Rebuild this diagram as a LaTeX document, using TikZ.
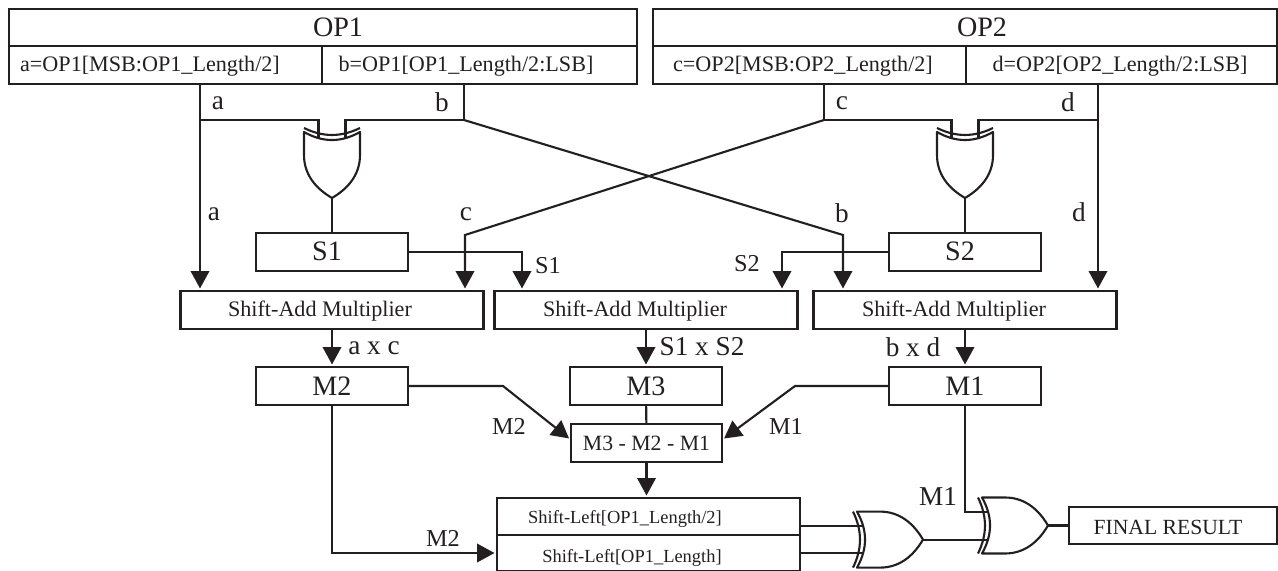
\documentclass[tikz,border=0pt]{standalone}
\usepackage{fontspec}
\setmainfont{Liberation Serif}
\usetikzlibrary{arrows.meta}
\definecolor{ink}{HTML}{231F20}
\tikzset{
  xorgate/.pic={
    \draw[wire, line join=round] (-66,-28) -- (-43,-28) .. controls (-24,-28) and (-10,-17) .. (0,0)
      .. controls (-10,17) and (-24,28) .. (-43,28) -- (-66,28)
      .. controls (-55.3,9) and (-55.3,-9) .. cycle;
    \draw[wire] (-70,-28) .. controls (-60.7,-9) and (-60.7,9) .. (-70,28);
    \coordinate (-in1) at (-60,-13.5);
    \coordinate (-in2) at (-60,13.5);
    \coordinate (-out) at (0,0);
  }
}
\begin{document}
\begin{tikzpicture}[
    x=0.02cm, y=-0.02cm,
    every node/.style={text=ink},
    wire/.style={ink, line width=1.2pt},
    arr/.style={wire, -{Triangle[length=3.5mm,width=3.7mm]}, shorten >=0.05cm},
    cell/.style={draw=ink, line width=1.3pt, inner sep=0pt, outer sep=0pt, minimum height=0.76cm},
    big/.style={font=\fontsize{16}{18}\selectfont},
    mid/.style={font=\fontsize{12.6}{14}\selectfont},
    tiny/.style={font=\fontsize{10.5}{12}\selectfont},
    lbl/.style={font=\fontsize{15.5}{18}\selectfont, inner sep=0pt},
    lbs/.style={font=\fontsize{13.8}{16}\selectfont, inner sep=0pt}
  ]
    \useasboundingbox (0,0) rectangle (1278,571);

    % Operand registers
    \node[cell, minimum width=12.56cm, minimum height=0.74cm] (op1) at (323,27.5) {};
    \node[cell, minimum width=6.26cm] (a1) at (165.5,65) {};
    \node[cell, minimum width=6.30cm] (b1) at (479.5,65) {};
    \node[cell, minimum width=12.48cm, minimum height=0.74cm] (op2) at (965,27.5) {};
    \node[cell, minimum width=6.26cm] (c1) at (809.5,65) {};
    \node[cell, minimum width=6.22cm] (d1) at (1121.5,65) {};
    \node[big] (op1txt) at (338,27) {OP1};
    \node[big] (op2txt) at (982,27) {OP2};
    \node[mid] (a1txt) at (150,66) {a=OP1[MSB:OP1\_Length/2]};
    \node[mid] (b1txt) at (466,66) {b=OP1[OP1\_Length/2:LSB]};
    \node[mid] (c1txt) at (803,66) {c=OP2[MSB:OP2\_Length/2]};
    \node[mid] (d1txt) at (1120,66) {d=OP2[OP2\_Length/2:LSB]};

    % Sum registers
    \node[cell, minimum width=3.04cm] (s1) at (332,252) {};
    \node[cell, minimum width=3.04cm] (s2) at (965,252) {};
    \node[big] (s1txt) at (327,251) {S1};
    \node[big] (s2txt) at (960,251) {S2};

    % Multipliers
    \node[cell, minimum width=6.06cm] (m1) at (332,310) {};
    \node[cell, minimum width=6.06cm] (m2) at (646,310) {};
    \node[cell, minimum width=6.06cm] (m3) at (965,310) {};
    \node[mid] (m1txt) at (320,311) {Shift-Add Multiplier};
    \node[mid] (m2txt) at (635,311) {Shift-Add Multiplier};
    \node[mid] (m3txt) at (954,311) {Shift-Add Multiplier};

    % Product registers
    \node[cell, big, minimum width=3.04cm] (rm2) at (332,386) {M2};
    \node[cell, big, minimum width=3.04cm] (rm3) at (646,386) {M3};
    \node[cell, big, minimum width=3.04cm] (rm1) at (965,386) {M1};
    \node[cell, font=\fontsize{12.4}{14}\selectfont, minimum width=3.02cm] (sub) at (646.5,443) {M3 - M2 - M1};

    % Shifters and result
    \node[cell, minimum width=6.06cm, minimum height=0.74cm] (sl1) at (648.5,516.5) {};
    \node[cell, minimum width=6.06cm, minimum height=0.72cm] (sl2) at (648.5,553) {};
    \node[tiny] (sl1txt) at (625,519) {Shift-Left[OP1\_Length/2]};
    \node[tiny] (sl2txt) at (632,558) {Shift-Left[OP1\_Length]};
    \node[cell, minimum width=4.16cm, minimum height=0.74cm] (res) at (1173,525.5) {};
    \node[font=\fontsize{12.3}{14}\selectfont] (restxt) at (1168,527) {FINAL RESULT};

    % Gates
    \pic[rotate=-90] (gs1) at (332,198) {xorgate};
    \pic[rotate=-90] (gs2) at (965,198) {xorgate};
    \pic (gb1) at (923,539.6) {xorgate};
    \pic (gb2) at (1048,525.5) {xorgate};

    % Junctions
    \coordinate (aj) at (200,120);
    \coordinate (bj) at (464,120);
    \coordinate (cj) at (824,120);
    \coordinate (dj) at (1098,120);
    \coordinate (bk) at (843,235);
    \coordinate (ck) at (465,235);
    \coordinate (s1k) at (522,252);
    \coordinate (s2k) at (782,252);
    \coordinate (m2k) at (503,386);
    \coordinate (m1k) at (795,386);

    % Operand wires
    \draw[arr] (a1.south -| aj) -- (m1.north -| aj);
    \draw[wire] (aj) -| (gs1-in2);
    \draw[wire] (b1.south -| bj) -- (bj) -| (gs1-in1);
    \draw[arr] (bj) -- (bk) -- (m3.north -| bk);
    \draw[wire] (c1.south -| cj) -- (cj) -| (gs2-in2);
    \draw[arr] (cj) -- (ck) -- (m1.north -| ck);
    \draw[arr] (d1.south -| dj) -- (m3.north -| dj);
    \draw[wire] (dj) -| (gs2-in1);
    \draw[wire] (gs1-out) -- (s1);
    \draw[wire] (gs2-out) -- (s2);
    \draw[arr] (s1) -| (m2.north -| s1k);
    \draw[arr] (s2) -| (m2.north -| s2k);

    % Products
    \draw[arr] (m1) -- (rm2);
    \draw[arr] (m2) -- (rm3);
    \draw[arr] (m3) -- (rm1);
    \draw[wire] (rm3) -- (sub);
    \draw[arr] (rm2) -- (m2k) -- ([yshift=0.06cm]sub.west);
    \draw[arr] (rm1) -- (m1k) -- ([yshift=0.06cm]sub.east);
    \draw[arr] (sub) -- (sub |- sl1.north);
    \draw[arr] (rm2) |- (sl2.west);

    % Final adder
    \draw[wire] (gb1-in1 -| sl1.east) -- (gb1-in1);
    \draw[wire] (gb1-in2 -| sl1.east) -- (gb1-in2);
    \draw[wire] (gb1-out) -- (gb1-out -| gb2-in2);
    \draw[wire] (rm1) |- (gb2-in1);
    \draw[wire] (gb2-out) -- (res);

    % Labels
    \node[lbl] (la1) at (218,103) {a};
    \node[lbl] (lb1) at (442,102) {b};
    \node[lbl] (lc1) at (842,103) {c};
    \node[lbl] (ld1) at (1068,102) {d};
    \node[lbl] (la2) at (214,214) {a};
    \node[lbl] (lc2) at (466,214) {c};
    \node[lbl] (lb2) at (842,213) {b};
    \node[lbl] (ld2) at (1079,212) {d};
    \node[lbs] (ls1) at (548,266) {S1};
    \node[lbs] (ls2) at (747,264) {S2};
    \node[lbl] (lac) at (374,348) {a x c};
    \node[lbl] (ls12) at (702,347) {S1 x S2};
    \node[lbl] (lbd) at (913,347) {b x d};
    \node[lbs] (lm2a) at (509,426) {M2};
    \node[lbs] (lm1a) at (786,426) {M1};
    \node[lbs] (lm2b) at (443,538) {M2};
    \node[lbl] (lm1b) at (938,497) {M1};
  \end{tikzpicture}
\end{document}
